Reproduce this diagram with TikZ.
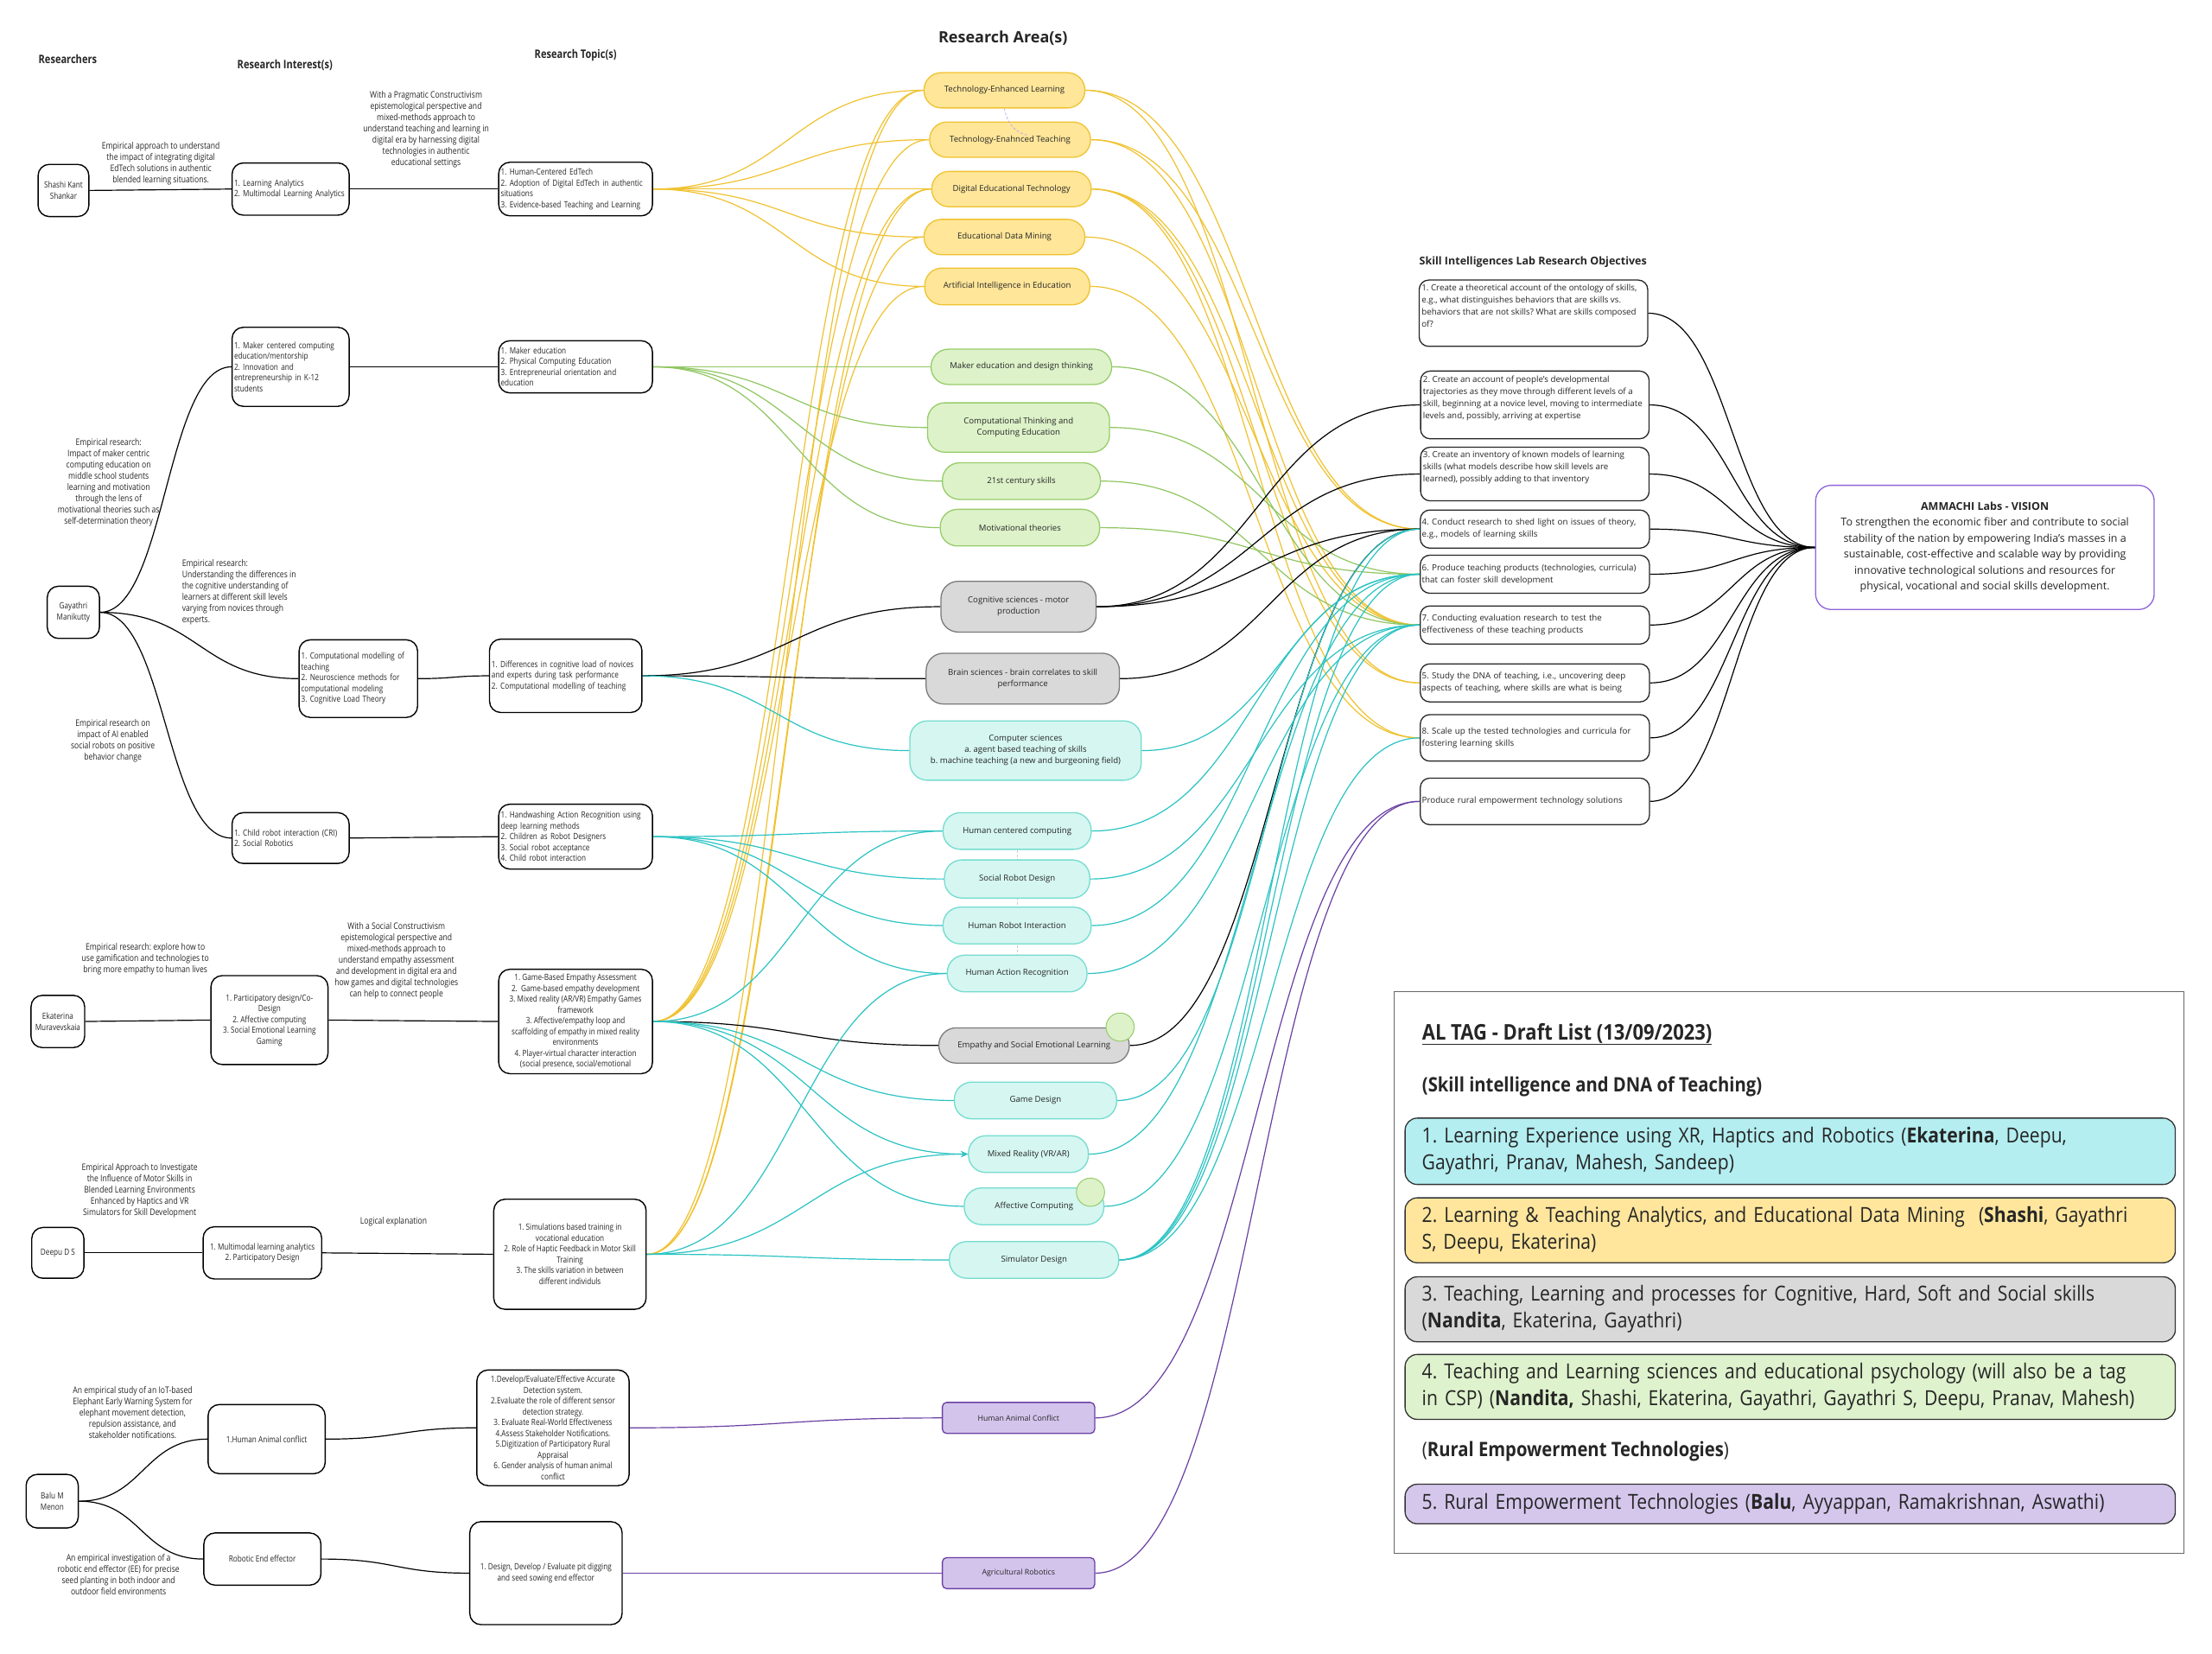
\documentclass[tikz,border=0pt]{standalone}
\usepackage{fontspec}
\setmainfont{Open Sans}
\newfontfamily\cond[FakeStretch=0.82]{Open Sans}
\newfontfamily\altag[FakeStretch=0.88]{Open Sans}
\usetikzlibrary{arrows.meta,calc}
\pgfdeclarelayer{bg}
\pgfdeclarelayer{paper}
\pgfsetlayers{paper,bg,main}
\definecolor{txt}{HTML}{262626}
\definecolor{yl}{HTML}{F0C230}
\definecolor{yf}{HTML}{FFE699}
\definecolor{gl}{HTML}{8FC660}
\definecolor{gf}{HTML}{DDF2C9}
\definecolor{gb}{HTML}{97CC6A}
\definecolor{tl}{HTML}{2BC3C3}
\definecolor{tf}{HTML}{D5F6F1}
\definecolor{tb}{HTML}{74DCCF}
\definecolor{kf}{HTML}{D9D9D9}
\definecolor{kb}{HTML}{7B7B7B}
\definecolor{pl}{HTML}{6A3FA3}
\definecolor{pf}{HTML}{D3C4EC}
\definecolor{vb}{HTML}{8E63D9}
\definecolor{ca}{HTML}{B4EEF1}
\definecolor{cb}{HTML}{FFE69C}
\definecolor{cc}{HTML}{D9D9D9}
\definecolor{cd}{HTML}{DEF2CD}
\definecolor{ce}{HTML}{D5C7EC}
\tikzset{
 wh/.style 2 args={minimum width=#1*1.6327pt, minimum height=#2*1.6327pt},
 tw/.style={text width=#1*1.6327pt},
 rbox/.style={draw=black, line width=1.4pt, rounded corners=13pt, fill=white, inner sep=2pt, text=txt, font=\cond\fontsize{10}{12.5}\selectfont, align=center},
 lbox/.style={rbox, align=left},
 ann/.style={text=txt, font=\cond\fontsize{10.5}{13}\selectfont, align=center, inner sep=0pt},
 head/.style={text=txt, font=\cond\bfseries\fontsize{13.5}{16}\selectfont, inner sep=0pt},
 area/.style={rounded corners=20pt, line width=1.3pt, text=txt, font=\fontsize{9.6}{13}\selectfont, align=center, inner sep=2pt},
 ya/.style={area, draw=yl, fill=yf},
 ga/.style={area, draw=gb, fill=gf},
 ka/.style={area, draw=kb, fill=kf},
 ta/.style={area, draw=tb, fill=tf},
 pa/.style={area, rounded corners=5pt, draw=pl, fill=pf, font=\fontsize{8.8}{10}\selectfont},
 obj/.style={draw=black!85, line width=1.3pt, rounded corners=11pt, fill=white, text=txt, font=\fontsize{9.8}{14}\selectfont, align=left, inner sep=2pt},
 objtext/.style={text=txt, font=\fontsize{9.8}{14}\selectfont, align=left, inner sep=0pt, anchor=north west},
 lk/.style={line width=1.2pt},
 hs/.style={to path={let \p1=(\tikztostart), \p2=(\tikztotarget) in .. controls (\x1*0.5+\x2*0.5,\y1) and (\x1*0.5+\x2*0.5,\y2) .. (\tikztotarget) \tikztonodes}},
 tagbox/.style={draw=black!80, line width=1.3pt, rounded corners=14pt, text=txt, font=\altag\fontsize{24}{31}\selectfont, align=left, inner sep=0pt},
 taghead/.style={text=txt, font=\altag\bfseries\fontsize{23}{28}\selectfont, anchor=west, inner sep=0pt},
 gcirc/.style={circle, draw=gb, fill=gf, line width=1pt, inner sep=0pt, minimum size=20*1.6327pt},
}
\begin{document}
\frenchspacing
\begin{tikzpicture}[x=1.6327pt, y=-1.6327pt]
\useasboundingbox (0,0) rectangle (1568,1172);
\begin{pgfonlayer}{paper}
\fill[white] (0,0) rectangle (1568,1172);
\end{pgfonlayer}

% headings
\node[head] (h1) at (48,42) {Researchers};
\node[head] (h2) at (202,46) {Research Interest(s)};
\node[head] (h3) at (408,39) {Research Topic(s)};
\node[text=txt, font=\bfseries\fontsize{18}{21}\selectfont, inner sep=0pt] (h4) at (711,27) {Research Area(s)};
\node[text=txt, font=\bfseries\fontsize{12.5}{15}\selectfont, anchor=west, inner sep=0pt] (h5) at (1006,186) {Skill Intelligences Lab Research Objectives};

% researchers
\node[rbox, wh={36}{37}] (r1) at (45,135) {Shashi Kant\\Shankar};
\node[rbox, wh={37}{37}] (r2) at (52,434) {Gayathri\\Manikutty};
\node[rbox, wh={38}{37}, inner sep=1pt] (r3) at (41,724) {Ekaterina\\Muravevskaia};
\node[rbox, wh={37}{36}] (r4) at (41,888) {Deepu D S};
\node[rbox, wh={37}{38}] (r5) at (37,1064) {Balu M\\Menon};

% interests
\node[lbox, wh={83}{37}, tw=80] (i1) at (206,134) {1. Learning Analytics\\2. Multimodal Learning Analytics};
\node[lbox, wh={83}{56}, tw=80] (i2) at (206,260) {1. Maker centered computing\\education/mentorship\\2. Innovation and\\entrepreneurship in K-12\\students};
\node[lbox, wh={84}{55}, tw=81] (i3) at (254,481) {1. Computational modelling of\\teaching\\2. Neuroscience methods for\\computational modeling\\3. Cognitive Load Theory};
\node[lbox, wh={83}{36}, tw=80] (i4) at (206,594) {1. Child robot interaction (CRI)\\2. Social Robotics};
\node[rbox, wh={83}{63}] (i5) at (191,723) {1. Participatory design/Co-\\Design\\2. Affective computing\\3. Social Emotional Learning\\Gaming};
\node[rbox, wh={84}{37}] (i6) at (186,888) {1. Multimodal learning analytics\\2. Participatory Design};
\node[rbox, wh={83}{49}] (i7) at (189,1020) {1.Human Animal conflict};
\node[rbox, wh={83}{37}] (i8) at (186,1105) {Robotic End effector};

% topics
\node[lbox, wh={109}{38}, tw=106] (t1) at (408,134) {1. Human-Centered EdTech\\2. Adoption of Digital EdTech in authentic\\situations\\3. Evidence-based Teaching and Learning};
\node[lbox, wh={109}{37}, tw=106] (t2) at (408,260) {1. Maker education\\2. Physical Computing Education\\3. Entrepreneurial orientation and\\education};
\node[lbox, wh={108}{52}, tw=105] (t3) at (401,479) {1. Differences in cognitive load of novices\\and experts during task performance\\2. Computational modelling of teaching};
\node[lbox, wh={109}{46}, tw=106] (t4) at (408,593) {1. Handwashing Action Recognition using\\deep learning methods\\2. Children as Robot Designers\\3. Social robot acceptance\\4. Child robot interaction};
\node[rbox, wh={109}{74}, inner sep=1pt] (t5) at (408,724) {1. Game-Based Empathy Assessment\\2.\ \ Game-based empathy development\\3. Mixed reality (AR/VR) Empathy Games\\framework\\3. Affective/empathy loop and\\scaffolding of empathy in mixed reality\\environments\\4. Player-virtual character interaction\\(social presence, social/emotional};
\node[rbox, wh={108}{78}] (t6) at (404,889) {1. Simulations based training in\\vocational education\\2. Role of Haptic Feedback in Motor Skill\\Training\\3. The skills variation in between\\different individuls};
\node[rbox, wh={108}{82}, inner sep=1pt] (t7) at (392,1012) {1.Develop/Evaluate/Effective Accurate\\Detection system.\\2.Evaluate the role of different sensor\\detection strategy.\\3. Evaluate Real-World Effectiveness\\4.Assess Stakeholder Notifications.\\5.Digitization of Participatory Rural\\Appraisal\\6. Gender analysis of human animal\\conflict};
\node[rbox, wh={108}{73}] (t8) at (387,1115) {1. Design, Develop / Evaluate pit digging\\and seed sowing end effector};

% annotations
\node[ann] (a1) at (114,116) {Empirical approach to understand\\the impact of integrating digital\\EdTech solutions in authentic\\blended learning situations.};
\node[ann] (a2) at (302,92) {With a Pragmatic Constructivism\\epistemological perspective and\\mixed-methods approach to\\understand teaching and learning in\\digital era by harnessing digital\\technologies in authentic\\educational settings};
\node[ann] (a3) at (77,342) {Empirical research:\\Impact of maker centric\\computing education on\\middle school students\\learning and motivation\\through the lens of\\motivational theories such as\\self-determination theory};
\node[ann, align=left, anchor=west] (a4) at (129,420) {Empirical research:\\Understanding the differences in\\the cognitive understanding of\\learners at different skill levels\\varying from novices through\\experts.};
\node[ann] (a5) at (80,525) {Empirical research on\\impact of AI enabled\\social robots on positive\\behavior change};
\node[ann] (a6) at (103,680) {Empirical research: explore how to\\use gamification and technologies to\\bring more empathy to human lives};
\node[ann] (a7) at (281,681) {With a Social Constructivism\\epistemological perspective and\\mixed-methods approach to\\understand empathy assessment\\and development in digital era and\\how games and digital technologies\\can help to connect people};
\node[ann] (a8) at (99,844) {Empirical Approach to Investigate\\the Influence of Motor Skills in\\Blended Learning Environments\\Enhanced by Haptics and VR\\Simulators for Skill Development};
\node[ann] (a9) at (279,866) {Logical explanation};
\node[ann] (a10) at (94,1001) {An empirical study of an IoT-based\\Elephant Early Warning System for\\elephant movement detection,\\repulsion assistance, and\\stakeholder notifications.};
\node[ann] (a11) at (84,1116) {An empirical investigation of a\\robotic end effector (EE) for precise\\seed planting in both indoor and\\outdoor field environments};

% research areas
\node[ya, wh={114}{25}] (A1) at (712,64) {Technology-Enhanced Learning};
\node[ya, wh={114}{25}] (A2) at (716,99) {Technology-Enahnced Teaching};
\node[ya, wh={113}{25}] (A3) at (717,134) {Digital Educational Technology};
\node[ya, wh={114}{25}] (A4) at (712,168) {Educational Data Mining};
\node[ya, wh={117}{26}] (A5) at (714,203) {Artificial Intelligence in Education};
\node[ga, wh={128}{25}] (G1) at (724,260) {Maker education and design thinking};
\node[ga, wh={129}{35}] (G2) at (722,303) {Computational Thinking and\\Computing Education};
\node[ga, wh={112}{26}] (G3) at (724,341) {21st century skills};
\node[ga, wh={113}{26}] (G4) at (723,374) {Motivational theories};
\node[ka, wh={110}{36}] (K1) at (722,430) {Cognitive sciences - motor\\production};
\node[ka, wh={137}{36}] (K2) at (725,481) {Brain sciences - brain correlates to skill\\performance};
\node[ta, wh={164}{42}] (C1) at (727,532) {Computer sciences\\a. agent based teaching of skills\\b. machine teaching (a new and burgeoning field)};
\node[ta, wh={105}{26}] (C2) at (721,589) {Human centered computing};
\node[ta, wh={103}{27}] (C3) at (721,623) {Social Robot Design};
\node[ta, wh={105}{26}] (C4) at (721,656) {Human Robot Interaction};
\node[ta, wh={99}{26}] (C5) at (721,690) {Human Action Recognition};
\node[ka, wh={135}{25}] (K3) at (733,741) {Empathy and Social Emotional Learning};
\node[ta, wh={115}{26}] (C6) at (734,780) {Game Design};
\node[ta, wh={85}{26}] (C7) at (729,818) {Mixed Reality (VR/AR)};
\node[ta, wh={99}{26}] (C8) at (733,855) {Affective Computing};
\node[ta, wh={120}{26}] (C9) at (733,893) {Simulator Design};
\node[pa, wh={108}{22}] (P1) at (722,1005) {Human Animal Conflict};
\node[pa, wh={108}{22}] (P2) at (722,1115) {Agricultural Robotics};
\node[gcirc] (gc1) at (794,728) {};
\node[gcirc] (gc2) at (773,845) {};
\draw[densely dashed, vb!55, line width=0.8pt] (A1.south) to[out=-80,in=170] (729,96);

% objectives
\node[obj, wh={162}{47}] (O1) at (1087,222) {};
\node[objtext] at ($(O1.north west)+(2,3)$) {1. Create a theoretical account of the ontology of skills,\\e.g., what distinguishes behaviors that are skills vs.\\behaviors that are not skills? What are skills composed\\of?};
\node[obj, wh={162}{48}] (O2) at (1088,287) {};
\node[objtext] at ($(O2.north west)+(2,4)$) {2. Create an account of people’s developmental\\trajectories as they move through different levels of a\\skill, beginning at a novice level, moving to intermediate\\levels and, possibly, arriving at expertise};
\node[obj, wh={162}{38}] (O3) at (1088,336) {};
\node[objtext] at ($(O3.north west)+(2,3)$) {3. Create an inventory of known models of learning\\skills (what models describe how skill levels are\\learned), possibly adding to that inventory};
\node[obj, wh={162}{27}, tw=160] (O4) at (1088,375) {4. Conduct research to shed light on issues of theory,\\e.g., models of learning skills};
\node[obj, wh={162}{27}, tw=160] (O6) at (1088,407) {6. Produce teaching products (technologies, curricula)\\that can foster skill development};
\node[obj, wh={162}{27}, tw=160] (O7) at (1088,443) {7. Conducting evaluation research to test the\\effectiveness of these teaching products};
\node[obj, wh={162}{27}, tw=160] (O5) at (1088,484) {5. Study the DNA of teaching, i.e., uncovering deep\\aspects of teaching, where skills are what is being};
\node[obj, wh={162}{33}, tw=160] (O8) at (1088,523) {8. Scale up the tested technologies and curricula for\\fostering learning skills};
\node[obj, wh={162}{33}, tw=160] (O9) at (1088,568) {Produce rural empowerment technology solutions};

% vision
\node[draw=vb, line width=1.3pt, rounded corners=18pt, fill=white, wh={240}{88}, text=txt, align=center, font=\fontsize{12.5}{18.5}\selectfont] (V) at (1407,388) {\textbf{AMMACHI Labs - VISION}\\To strengthen the economic fiber and contribute to social\\stability of the nation by empowering India’s masses in a\\sustainable, cost-effective and scalable way by providing\\innovative technological solutions and resources for\\physical, vocational and social skills development.};

% AL TAG panel
\node[draw=black!60, line width=1pt, wh={560}{398}, inner sep=0pt] (AL) at (1268,902) {};
\node[taghead, font=\altag\bfseries\fontsize{25}{30}\selectfont] (L0) at (1008,733) {\underline{AL TAG - Draft List (13/09/2023)}};
\node[taghead] (L1) at (1008,770) {(Skill intelligence and DNA of Teaching)};
\node[tagbox, fill=ca, wh={546}{47}, tw=522] (B1) at (1269,816) {1. Learning Experience using XR, Haptics and Robotics (\textbf{Ekaterina}, Deepu,\\Gayathri, Pranav, Mahesh, Sandeep)};
\node[tagbox, fill=cb, wh={546}{46}, tw=522] (B2) at (1269,872) {2. Learning \& Teaching Analytics, and Educational Data Mining\ \ (\textbf{Shashi}, Gayathri\\S, Deepu, Ekaterina)};
\node[tagbox, fill=cc, wh={546}{46}, tw=522] (B3) at (1269,928) {3. Teaching, Learning and processes for Cognitive, Hard, Soft and Social skills\\(\textbf{Nandita}, Ekaterina, Gayathri)};
\node[tagbox, fill=cd, wh={546}{46}, tw=522] (B4) at (1269,983) {4. Teaching and Learning sciences and educational psychology (will also be a tag\\in CSP) (\textbf{Nandita,} Shashi, Ekaterina, Gayathri, Gayathri S, Deepu, Pranav, Mahesh)};
\node[taghead, font=\altag\fontsize{23}{28}\selectfont] (L2) at (1008,1029) {(\textbf{Rural Empowerment Technologies})};
\node[tagbox, fill=ce, wh={546}{28}, tw=522] (B5) at (1269,1066) {5. Rural Empowerment Technologies (\textbf{Balu}, Ayyappan, Ramakrishnan, Aswathi)};

\begin{pgfonlayer}{bg}
% black tree links
\draw[lk] (r1.east) to[hs] (i1.west);
\draw[lk] (i1.east) to[hs] (t1.west);
\draw[lk] (r2.east) to[hs] (i2.west);
\draw[lk] (r2.east) to[hs] (i3.west);
\draw[lk] (r2.east) to[hs] (i4.west);
\draw[lk] (i2.east) to[hs] (t2.west);
\draw[lk] (i3.east) to[hs] (t3.west);
\draw[lk] (i4.east) to[hs] (t4.west);
\draw[lk] (r3.east) to[hs] (i5.west);
\draw[lk] (i5.east) to[hs] (t5.west);
\draw[lk] (r4.east) to[hs] (i6.west);
\draw[lk] (i6.east) to[hs] (t6.west);
\draw[lk] (r5.east) to[hs] (i7.west);
\draw[lk] (r5.east) to[hs] (i8.west);
\draw[lk] (i7.east) to[hs] (t7.west);
\draw[lk] (i8.east) to[hs] (t8.west);
% topics -> areas
\foreach \a in {A1,A2,A3,A4,A5} \draw[lk, yl] (t1.east) to[hs] (\a.west);
\foreach \a in {A1,A2,A3,A5} \draw[lk, yl] (t5.east) to[hs] (\a.west);
\foreach \a in {A1,A3,A4} \draw[lk, yl] (t6.east) to[hs] (\a.west);
\foreach \a in {G1,G2,G3,G4} \draw[lk, gl] (t2.east) to[hs] (\a.west);
\draw[lk] (t3.east) to[hs] (K1.west);
\draw[lk] (t3.east) to[hs] (K2.west);
\draw[lk] (t5.east) to[hs] (K3.west);
\draw[lk, tl] (t3.east) to[hs] (C1.west);
\foreach \a in {C2,C3,C4,C5} \draw[lk, tl] (t4.east) to[hs] (\a.west);
\foreach \a in {C2,C6,C8} \draw[lk, tl] (t5.east) to[hs] (\a.west);
\draw[lk, tl, -{Stealth[length=8pt,width=7pt]}] (t5.east) to[hs] (C7.west);
\draw[lk, tl, -{Stealth[length=8pt,width=7pt]}] (t6.east) to[hs] (C7.west);
\draw[lk, tl] (t6.east) to[hs] (C5.west);
\draw[lk, tl] (t6.east) to[hs] (C9.west);
\draw[lk, pl] (t7.east) to[hs] (P1.west);
\draw[lk, pl] (t8.east) to[hs] (P2.west);
\draw[densely dashed, black!20, line width=0.8pt] (C2.south) -- (C5.north);
% areas -> objectives
\draw[lk, yl] (A1.east) to[hs] (O4.west);
\draw[lk, yl] (A1.east) to[hs] (O5.west);
\draw[lk, yl] (A2.east) to[hs] (O4.west);
\draw[lk, yl] (A2.east) to[hs] (O7.west);
\draw[lk, yl] (A3.east) to[hs] (O7.west);
\draw[lk, yl] (A3.east) to[hs] (O8.west);
\draw[lk, yl] (A3.east) to[hs] (O5.west);
\draw[lk, yl] (A4.east) to[hs] (O7.west);
\draw[lk, yl] (A5.east) to[hs] (O8.west);
\draw[lk, gl] (G1.east) to[hs] (O7.west);
\draw[lk, gl] (G2.east) to[hs] (O6.west);
\draw[lk, gl] (G3.east) to[hs] (O7.west);
\draw[lk, gl] (G4.east) to[hs] (O6.west);
\draw[lk] (K1.east) to[hs] (O2.west);
\draw[lk] (K1.east) to[hs] (O3.west);
\draw[lk] (K1.east) to[hs] (O4.west);
\draw[lk] (K2.east) to[hs] (O4.west);
\draw[lk] (K3.east) to[hs] (O4.west);
\draw[lk, tl] (C1.east) to[hs] (O6.west);
\draw[lk, tl] (C2.east) to[hs] (O6.west);
\draw[lk, tl] (C3.east) to[hs] (O7.west);
\draw[lk, tl] (C4.east) to[hs] (O6.west);
\draw[lk, tl] (C5.east) to[hs] (O7.west);
\draw[lk, tl] (C6.east) to[hs] (O4.west);
\draw[lk, tl] (C7.east) to[hs] (O6.west);
\draw[lk, tl] (C8.east) to[hs] (O7.west);
\foreach \o in {O4,O6,O7,O8} \draw[lk, tl] (C9.east) to[hs] (\o.west);
\draw[lk, pl] (P1.east) to[hs] (O9.west);
\draw[lk, pl] (P2.east) to[hs] (O9.west);
% objectives -> vision
\foreach \o in {O1,O2,O3,O4,O6,O7,O5,O8,O9} \draw[lk] (\o.east) to[hs] (V.west);
\end{pgfonlayer}
\end{tikzpicture}
\end{document}
